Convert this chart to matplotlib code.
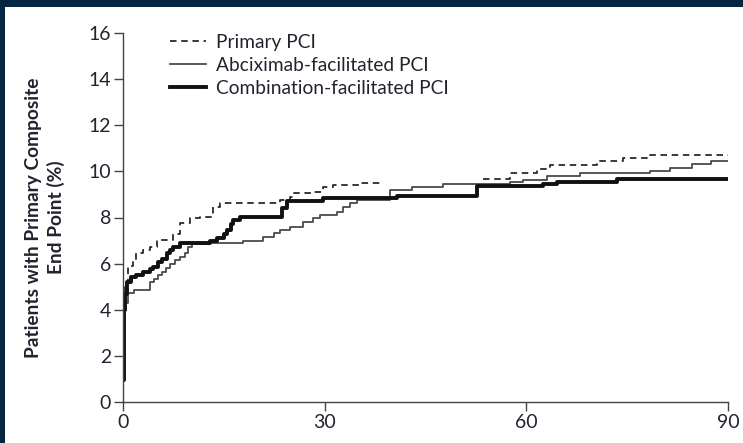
import numpy as np
import matplotlib
matplotlib.use("Agg")
import matplotlib.pyplot as plt
from matplotlib.patches import Rectangle

plt.rcParams['font.family'] = ['Lato', 'DejaVu Sans']

# Kaplan-Meier style cumulative incidence (days, percent)
primary_days = [0, 0.1, 0.3, 0.7, 1.5, 2.0, 3.0, 4.0, 5.0, 7.5, 8.5, 10.0, 11.5,
                13.4, 14.4, 23.4, 24.9, 25.4, 28.3, 29.8, 31.2, 35.3, 38.2,
                53.6, 57.6, 61.6, 63.5, 70.5, 74.4, 78.4, 90]
primary_vals = [0.9, 3.5, 5.0, 5.9, 6.16, 6.45, 6.6, 6.73, 7.02, 7.3, 7.75, 7.96, 8.04,
                8.47, 8.61, 8.75, 8.9, 9.05, 9.12, 9.34, 9.41, 9.5, np.nan,
                9.67, 9.92, 10.1, 10.28, 10.47, 10.57, 10.71, 10.71]

abcix_days = [0, 0.15, 0.8, 1.6, 4.0, 4.6, 5.2, 5.8, 6.4, 7.0, 7.8, 8.5, 9.2, 9.7,
              10.2, 13.0, 17.9, 20.9, 22.4, 23.4, 24.9, 26.8, 28.3, 29.3, 31.8,
              32.8, 33.8, 34.8, 39.7, 43.0, 47.6, 57.6, 59.5, 63.1, 68.0, 78.4,
              81.4, 84.6, 87.5, 90]
abcix_vals = [0.9, 4.28, 4.71, 4.86, 5.2, 5.35, 5.5, 5.65, 5.8, 6.0, 6.15, 6.3, 6.45, 6.7,
              6.85, 6.9, 7.0, 7.17, 7.32, 7.46, 7.6, 7.82, 7.96, 8.11, 8.25,
              8.47, 8.61, 8.76, 9.19, 9.31, 9.47, 9.55, 9.63, 9.8, 9.92, 10.02,
              10.16, 10.3, 10.47, 10.47]

combo_days = [0, 0.1, 0.3, 0.6, 1.2, 2.0, 3.0, 4.0, 4.5, 5.2, 5.8, 6.5, 7.0, 7.5, 8.5,
              13.0, 14.0, 15.0, 15.4, 16.0, 16.4, 17.4, 23.6, 24.4, 29.8, 40.7,
              52.6, 62.5, 64.6, 73.5, 90]
combo_vals = [0.95, 4.0, 4.7, 5.2, 5.43, 5.5, 5.65, 5.75, 5.87, 6.05, 6.2, 6.45, 6.6, 6.73, 6.88,
              6.97, 7.09, 7.3, 7.46, 7.7, 7.89, 8.04, 8.4, 8.7, 8.83, 8.93,
              9.35, 9.45, 9.53, 9.66, 9.66]

series_labels = ["Primary PCI", "Abciximab-facilitated PCI", "Combination-facilitated PCI"]
x_ticks = [0, 30, 60, 90]
y_ticks = [0, 2, 4, 6, 8, 10, 12, 14, 16]

W, H = 743, 443
fig = plt.figure(figsize=(W / 100, H / 100), dpi=100)
fig.patch.set_facecolor('#062541')
fig.patches.append(Rectangle((5 / W, 0), 1 - 5 / W, (H - 7) / H,
                             transform=fig.transFigure, facecolor='white',
                             edgecolor='none', zorder=-10))

ax = fig.add_axes([123 / W, (H - 402) / H, 605 / W, 369 / H])
ax.set_facecolor('none')

text_color = '#23232f'
ax.plot(primary_days, primary_vals, drawstyle='steps-post', color='#2a2a2a',
        lw=1.3, dashes=(3.6, 2.6), label=series_labels[0])
ax.plot(abcix_days, abcix_vals, drawstyle='steps-post', color='#4a4a4a',
        lw=1.3, label=series_labels[1])
ax.plot(combo_days, combo_vals, drawstyle='steps-post', color='#111111',
        lw=2.8, label=series_labels[2])

ax.set_xlim(0, 90)
ax.set_ylim(0, 16)
ax.set_xticks(x_ticks)
ax.set_yticks(y_ticks)
for s in ['top', 'right']:
    ax.spines[s].set_visible(False)
for s in ['left', 'bottom']:
    ax.spines[s].set_color('#444444')
    ax.spines[s].set_linewidth(1.0)
ax.tick_params(axis='both', direction='out', length=6.5, width=1.0,
               color='#444444', labelsize=14, labelcolor=text_color, pad=2)

ax.set_ylabel("Patients with Primary Composite\nEnd Point (%)", fontsize=13.8,
              fontweight='bold', color=text_color, labelpad=17, linespacing=1.35)

leg = ax.legend(loc='upper left', bbox_to_anchor=(0.078, 0.997), frameon=False,
                fontsize=13.8, handlelength=1.85, handletextpad=0.55,
                labelspacing=0.3, borderpad=0, borderaxespad=0)
for t in leg.get_texts():
    t.set_color(text_color)

fig.savefig("out.png", dpi=100, facecolor=fig.get_facecolor())
